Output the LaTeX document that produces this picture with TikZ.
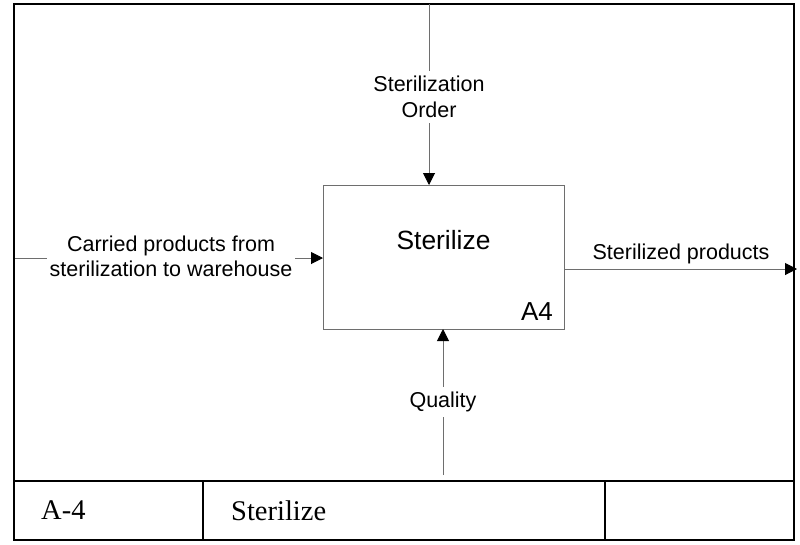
\documentclass[tikz,border=0pt]{standalone}
\usepackage{fontspec}
\setmainfont{Liberation Sans}
\newfontfamily\tablefont{Liberation Serif}
\usetikzlibrary{arrows.meta}
\definecolor{wire}{HTML}{6E6E6E}
\begin{document}
\begin{tikzpicture}[x=1pt,y=-1pt,
  frameline/.style={line width=2pt,black},
  wireline/.style={line width=1pt,wire},
  flow/.style={wireline,-{Triangle[length=12pt,width=12pt,color=black]}},
  lbl/.style={font=\fontsize{21.5}{25.5}\selectfont,align=center,inner sep=1pt},
  cutlbl/.style={lbl,fill=white,inner ysep=5pt},
  celltext/.style={font=\tablefont\fontsize{28.5}{32}\selectfont,anchor=west,inner sep=0pt}]
\useasboundingbox (0,0) rectangle (800,544);

% outer frame and title block
\draw[frameline] (14,4) rectangle (794,540);
\draw[frameline] (14,481) -- (794,481);
\draw[frameline] (203,481) -- (203,540);
\draw[frameline] (605,481) -- (605,540);
\node[celltext] (num) at (41,510.5) {A-4};
\node[celltext] (title) at (231,510.5) {Sterilize};

% activity box
\node[draw=wire,line width=1pt,minimum width=241pt,minimum height=144pt,inner sep=0pt]
  (act) at (443.5,257) {};
\node[font=\fontsize{26.4}{30}\selectfont,inner sep=0pt] (actname) at (443.5,240) {Sterilize};
\node[font=\fontsize{26}{30}\selectfont,anchor=south east,inner sep=0pt] (actid) at (553,321) {A4};

% control from above
\coordinate (ctlsrc) at (429,4);
\coordinate (ctldst) at (429,185);
\draw[flow] (ctlsrc) -- (ctldst);
\node[cutlbl] (ctl) at (429,97) {Sterilization\\Order};

% input from the left
\coordinate (insrc) at (15,258);
\coordinate (indst) at (323,258);
\draw[flow] (insrc) -- (indst);
\node[cutlbl,inner xsep=2.5pt] (inp) at (171,256.5) {Carried products from\\sterilization to warehouse};

% output to the right
\coordinate (outsrc) at (564,269);
\coordinate (outdst) at (797,269);
\draw[flow] (outsrc) -- (outdst);
\node[lbl,anchor=south] (outp) at (681,265) {Sterilized products};

% quality from below
\coordinate (qsrc) at (443,475);
\coordinate (qdst) at (443,329);
\draw[flow] (qsrc) -- (qdst);
\node[cutlbl] (qual) at (443,402) {Quality};
\end{tikzpicture}
\end{document}
